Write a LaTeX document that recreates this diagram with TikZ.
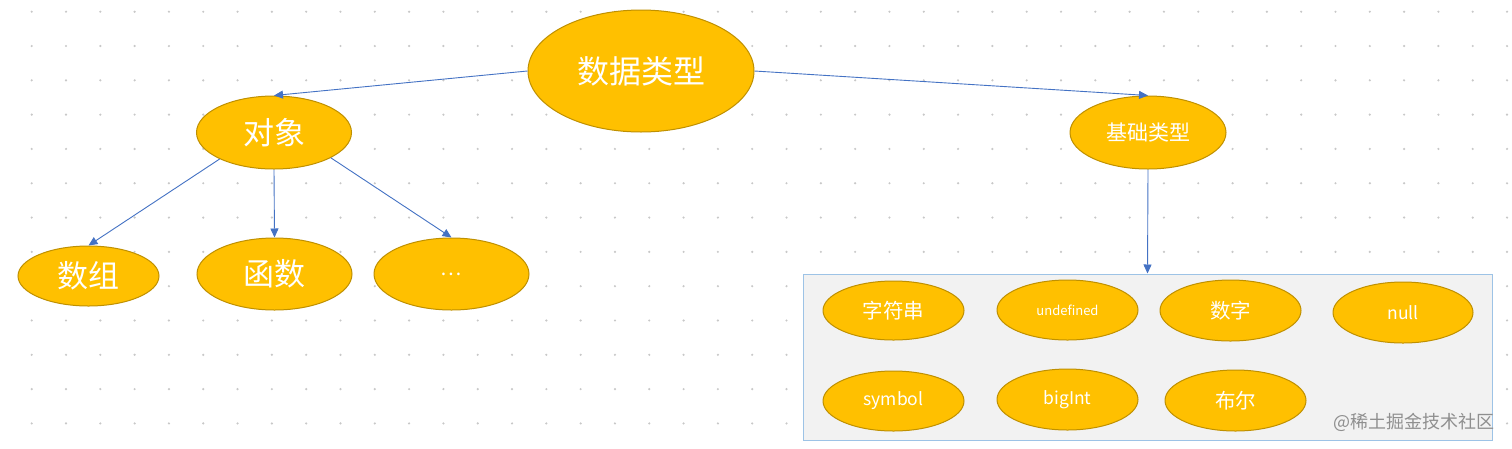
\documentclass[tikz,border=0pt]{standalone}
\usepackage{fontspec}
\setmainfont{Noto Sans CJK SC}
\usetikzlibrary{shapes.geometric,arrows.meta}
\definecolor{fillo}{HTML}{FFC000}
\definecolor{edgeo}{HTML}{BF9000}
\definecolor{arrc}{HTML}{4472C4}
\definecolor{boxfill}{HTML}{F2F2F2}
\definecolor{boxedge}{HTML}{9DC3E6}
\definecolor{dotc}{HTML}{C8C8C8}
\definecolor{wmc}{HTML}{8F8F8F}
\begin{document}
\begin{tikzpicture}[x=1pt,y=-1pt,
  oval/.style={ellipse, draw=edgeo, fill=fillo, line width=1pt, inner sep=0pt, text=white},
  bigoval/.style={oval, minimum width=155pt, minimum height=73pt, font=\fontsize{31}{31}\selectfont},
  smalloval/.style={oval, minimum width=141pt, minimum height=60pt},
  conn/.style={draw=arrc, line width=0.9pt, -{Triangle[length=9pt,width=8pt]}},
  cjks/.style={font=\fontsize{20.5}{20.5}\selectfont},
  lats/.style={font=\fontsize{17.5}{17.5}\selectfont},
]
\useasboundingbox[fill=white] (0,0) rectangle (1512,448);
\foreach \i in {0,...,43}{
  \foreach \j in {0,...,12}{
    \fill[dotc] ({31.7+34.31*\i},{11.7+34.31*\j}) circle (1.2pt);
  }
}
% container box
\node[draw=boxedge, fill=boxfill, line width=1pt, minimum width=689pt, minimum height=166pt, inner sep=0pt] (box) at (1147.5,357) {};

% top level
\node[oval, minimum width=226pt, minimum height=122pt, font=\fontsize{32}{32}\selectfont] (d) at (641,71) {数据类型};
\node[bigoval] (o) at (274,132.5) {对象};
\node[oval, minimum width=156pt, minimum height=73pt, font=\fontsize{21}{21}\selectfont] (b) at (1148,132.5) {基础类型};

% object children
\node[oval, minimum width=141pt, minimum height=60pt, font=\fontsize{31}{31}\selectfont] (arr) at (88.5,276) {数组};
\node[bigoval, minimum height=72pt] (fn) at (274.5,274) {函数};
\node[bigoval, minimum height=72pt, font=\fontsize{20}{20}\selectfont] (etc) at (451.5,274) {…};

% primitive types
\node[smalloval, minimum height=59pt, cjks] (s1) at (893.5,310.5) {字符串};
\node[smalloval, font=\fontsize{13}{13}\selectfont] (s2) at (1067.5,310) {undefined};
\node[smalloval, minimum height=61pt, cjks] (s3) at (1230.5,310.5) {数字};
\node[smalloval, minimum width=140pt, minimum height=61pt, lats] (s4) at (1403,312.5) {null};
\node[smalloval, lats] (s5) at (893.5,401) {symbol};
\node[smalloval, minimum height=61pt, lats] (s6) at (1067.5,399.5) {bigInt};
\node[smalloval, minimum height=61pt, cjks] (s7) at (1235.5,400.5) {布尔};

% connectors
\draw[conn] (d.west) -- (o.north);
\draw[conn] (d.east) -- (b.north);
\draw[conn] (o.206) -- (arr.north);
\draw[conn] (o.south) -- (fn.north);
\draw[conn] (o.336) -- (etc.north);
\draw[conn] (b.south) -- (box.north);

% watermark
\node[text=wmc, font=\fontsize{18}{18}\selectfont, anchor=east, inner sep=0pt] (wm) at (1495,422) {@稀土掘金技术社区};
\end{tikzpicture}
\end{document}
